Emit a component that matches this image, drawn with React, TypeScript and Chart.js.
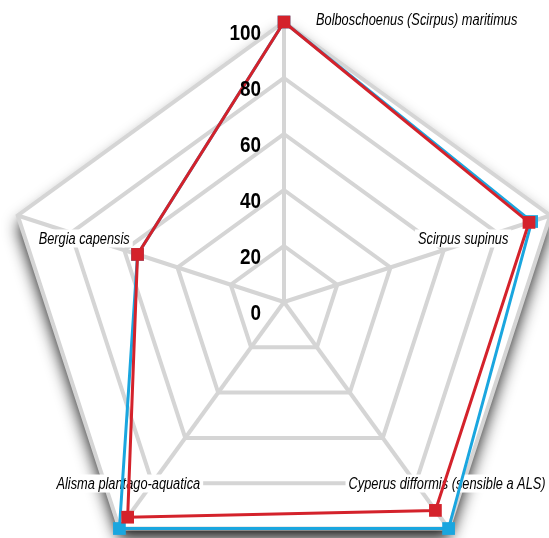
import React, { useEffect, useRef } from "react";
import { Chart, registerables } from "chart.js";

Chart.register(...registerables);

// ---- data ----
const categories = [
  "Bolboschoenus (Scirpus) maritimus",
  "Scirpus supinus",
  "Cyperus difformis (sensible a ALS)",
  "Alisma plantago-aquatica",
  "Bergia capensis",
];
const blueValues = [100, 93, 100, 100, 55];
const redValues = [100, 92, 92, 95, 55];
const tickValues = [0, 20, 40, 60, 80, 100];

// ---- styles / layout ----
const BLUE = "#1aa6df";
const RED = "#d4222b";
const GRID = "#d5d5d5";
const LABEL_FONT = 'italic 16px "Liberation Sans", Arial, sans-serif';
const LABEL_SQUEEZE = 0.8;
const TICK_FONT = 'bold 22px "Liberation Sans", Arial, sans-serif';
const TICK_SQUEEZE = 0.86;
const LABEL_LAYOUT = [
  { dx: 32, dy: -2, align: "left" },
  { dx: -42, dy: 23, align: "right" },
  { dx: 97, dy: -45, align: "right" },
  { dx: -63, dy: -45, align: "left" },
  { dx: 112, dy: 23, align: "right" },
];

const decorPlugin = {
  id: "decor",
  beforeDraw(chart: any) {
    const s = chart.scales.r;
    const ctx = chart.ctx;
    ctx.save();
    ctx.beginPath();
    categories.forEach((_, i) => {
      const p = s.getPointPositionForValue(i, s.max);
      if (i === 0) ctx.moveTo(p.x, p.y);
      else ctx.lineTo(p.x, p.y);
    });
    ctx.closePath();
    ctx.shadowColor = "rgba(0,0,0,0.9)";
    ctx.shadowBlur = 16;
    ctx.shadowOffsetY = 10;
    ctx.fillStyle = "#ffffff";
    ctx.fill();
    ctx.restore();
  },
  beforeDatasetsDraw(chart: any) {
    const s = chart.scales.r;
    const ctx = chart.ctx;
    ctx.save();
    ctx.font = LABEL_FONT;
    ctx.textBaseline = "middle";
    categories.forEach((label, i) => {
      const p = s.getPointPositionForValue(i, s.max);
      const lay = LABEL_LAYOUT[i];
      const w = ctx.measureText(label).width * LABEL_SQUEEZE;
      const x = p.x + lay.dx;
      const y = p.y + lay.dy;
      const left = lay.align === "left" ? x : x - w;
      ctx.fillStyle = "#ffffff";
      ctx.fillRect(left - 3, y - 9, w + 6, 18);
      ctx.save();
      ctx.translate(left, y + 1);
      ctx.scale(LABEL_SQUEEZE, 1);
      ctx.fillStyle = "#000000";
      ctx.textAlign = "left";
      ctx.fillText(label, 0, 0);
      ctx.restore();
    });
    ctx.restore();
  },
  afterDatasetsDraw(chart: any) {
    const s = chart.scales.r;
    const ctx = chart.ctx;
    ctx.save();
    ctx.font = TICK_FONT;
    ctx.textAlign = "right";
    ctx.textBaseline = "middle";
    ctx.fillStyle = "#000000";
    s.ticks.forEach((t: any) => {
      const d = s.getDistanceFromCenterForValue(t.value);
      ctx.save();
      ctx.translate(s.xCenter - 23, s.yCenter - d + 12);
      ctx.scale(TICK_SQUEEZE, 1);
      ctx.fillText(String(t.label), 0, 0);
      ctx.restore();
    });
    ctx.restore();
  },
};

export default function App() {
  const ref = useRef<HTMLCanvasElement | null>(null);
  useEffect(() => {
    if (!ref.current) return;
    const chart = new Chart(ref.current, {
      type: "radar",
      data: {
        labels: categories,
        datasets: [
          {
            label: "red",
            data: redValues,
            order: 0,
            borderColor: RED,
            backgroundColor: RED,
            borderWidth: 3,
            fill: false,
            pointStyle: "rect",
            pointRadius: 9,
            pointBorderWidth: 0,
            pointBackgroundColor: RED,
            clip: false,
          },
          {
            label: "blue",
            data: blueValues,
            order: 1,
            borderColor: BLUE,
            backgroundColor: BLUE,
            borderWidth: 3,
            fill: false,
            pointStyle: "rect",
            pointRadius: 9,
            pointBorderWidth: 0,
            pointBackgroundColor: BLUE,
            clip: false,
          },
        ],
      },
      options: {
        animation: false,
        responsive: false,
        layout: { padding: { left: 4, right: 0, top: 22, bottom: 0 } },
        plugins: { legend: { display: false }, tooltip: { enabled: false } },
        elements: { line: { tension: 0 } },
        scales: {
          r: {
            min: 0,
            max: 100,
            afterBuildTicks: (scale: any) => {
              scale.ticks = tickValues.map((v) => ({ value: v, label: String(v) }));
            },
            ticks: { display: false, stepSize: 20 },
            pointLabels: { display: false },
            grid: { color: GRID, lineWidth: 4, circular: false },
            angleLines: { color: GRID, lineWidth: 4 },
          },
        },
      },
      plugins: [decorPlugin],
    });
    return () => chart.destroy();
  }, []);
  return (
    <div style={{ position: "fixed", left: 0, top: 0, width: 549, height: 538, overflow: "hidden", background: "#fff" }}>
      <canvas ref={ref} width={564} height={582} style={{ display: "block" }} />
    </div>
  );
}
